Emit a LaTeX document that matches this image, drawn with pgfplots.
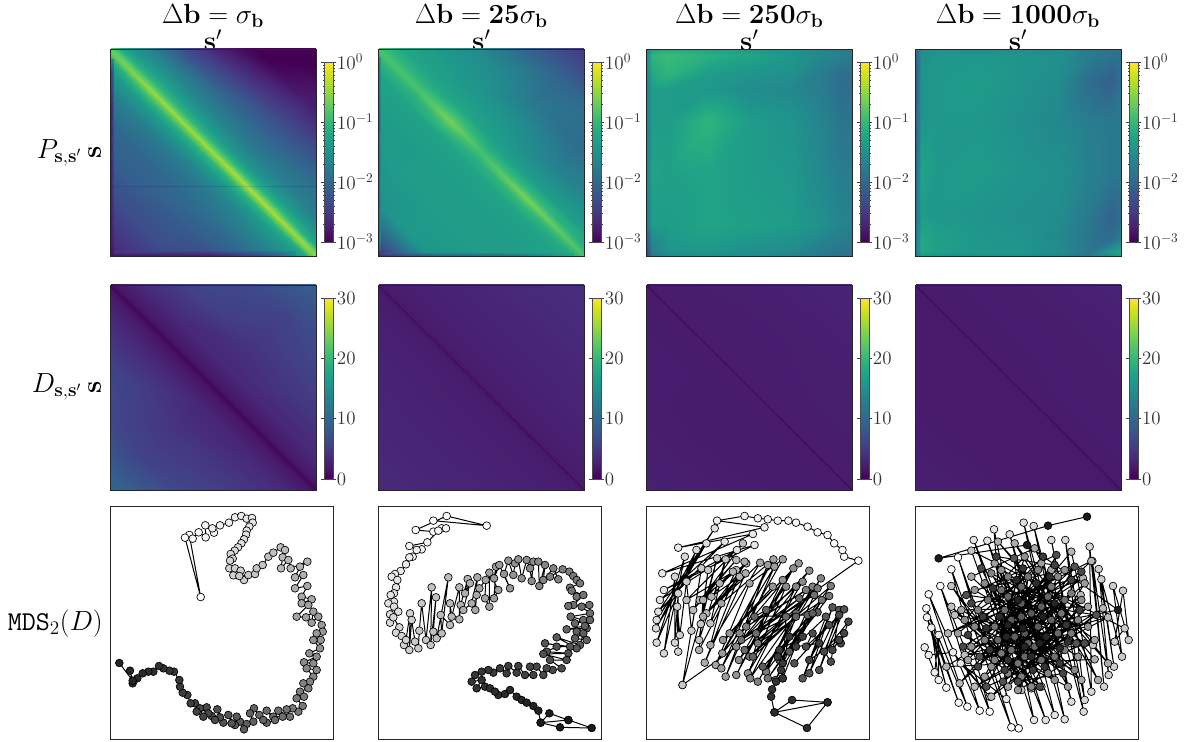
\documentclass[border=0pt]{standalone}
\usepackage{amsmath}
\usepackage{pgfplots}
\usepackage{pgfplotstable}
\pgfplotsset{compat=1.18}
\pgfplotsset{
  colormap={wb}{color(0cm)=(white);color(1cm)=(black!90)},
  base/.style={scale only axis, at={(#1)}, anchor=south west, ticks=none, y dir=reverse, axis on top, axis line style={line width=.6pt, black!85}},
  heat/.style={base={#1}, width=154.5pt, xmin=0,xmax=1,ymin=0,ymax=1, colormap/viridis, point meta=explicit, colorbar,
     colorbar style={scale only axis, width=6.75pt, at={(1.0405,0.937)}, anchor=north west, axis line style={line width=.5pt, black!70},
       tick align=outside, major tick length=2.2pt, minor tick length=.9pt, tick style={black!75, line width=.35pt}, minor tick style={line width=.25pt},
       y tick label style={font=\fontsize{14.2}{14.2}\selectfont, text=black!80, xshift=-3pt}, yticklabel pos=right}},
  Pax/.style={heat={#1,364.5pt}, height=155.25pt, point meta min=-3, point meta max=0,
     colorbar style={height=135pt, ytick={-3,-2,-1,0}, yticklabels={$10^{-3}$,$10^{-2}$,$10^{-1}$,$10^{0}$},
       minor ytick={-2.699,-2.523,-2.398,-2.301,-2.222,-2.155,-2.097,-2.046,-1.699,-1.523,-1.398,-1.301,-1.222,-1.155,-1.097,-1.046,-.699,-.523,-.398,-.301,-.222,-.155,-.097,-.046}}},
  Dax/.style={heat={#1,189pt}, height=153.75pt, point meta min=0, point meta max=30,
     colorbar style={height=135.75pt, ytick={0,10,20,30}, yticklabels={0,10,20,30}}},
  rot/.style={surf, shader=interp, mesh/cols=#1},
  table/rtab/.style={row sep=\\, x expr=\thisrow{u}-\thisrow{d}/2, y expr=\thisrow{u}+\thisrow{d}/2, meta=c},
  table/gtab/.style={row sep=\\, x=x, y=y, meta=c},
  mds/.style 2 args={base={#1,2.25pt}, width=167.25pt, height=174.75pt, colormap name=wb, ymin=18,ymax=717, point meta min=0, point meta max=#2},
  dots/.style={only marks, scatter, mark=*, mark size=2.9pt, scatter/use mapped color={draw=black, fill=mapped color, line width=.5pt}, point meta=\coordindex},
  link/.style={no marks, black, line width=.75pt},
}
\pgfplotstableread[row sep=\\]{x y\\
268 105\\302 291\\255 113\\278 116\\296 97\\317 112\\316 76\\342 98\\337 85\\360 76\\387 68\\405 52\\424 48\\440 56\\456 54\\458 68\\448 80\\440 92\\438 104\\432 118\\424 130\\414 142\\404 152\\392 162\\398 176\\390 182\\388 205\\400 226\\405 205\\422 212\\432 240\\418 228\\445 225\\465 222\\470 205\\488 195\\505 170\\520 158\\542 142\\555 150\\548 172\\543 205\\565 180\\572 205\\622 185\\600 200\\585 232\\610 225\\585 265\\622 258\\605 290\\635 298\\605 310\\625 315\\590 350\\618 352\\640 335\\635 368\\655 350\\665 375\\668 395\\650 400\\662 420\\640 420\\660 445\\628 460\\650 470\\612 487\\640 490\\650 510\\620 505\\640 530\\630 545\\610 550\\625 565\\600 575\\612 590\\590 595\\608 618\\595 635\\578 625\\560 628\\570 650\\535 632\\548 650\\520 650\\500 632\\525 660\\500 668\\478 645\\490 660\\462 625\\450 640\\460 665\\440 672\\432 688\\420 665\\410 650\\405 675\\385 645\\395 670\\370 668\\352 628\\360 652\\335 648\\345 660\\320 622\\325 640\\300 625\\310 650\\290 635\\285 610\\272 610\\262 585\\248 578\\240 560\\238 540\\222 515\\208 512\\190 505\\177 498\\160 515\\145 515\\128 520\\112 535\\98 550\\90 512\\98 542\\58 489\\
}\mdsA
\pgfplotstableread[row sep=\\]{x y\\
190 62\\350 77\\230 48\\137 90\\190 95\\215 85\\228 85\\205 92\\172 127\\118 138\\155 148\\140 150\\128 170\\118 172\\108 193\\92 213\\75 222\\65 230\\82 240\\78 262\\72 280\\62 285\\72 305\\55 310\\72 320\\60 343\\85 335\\60 368\\70 352\\88 382\\78 398\\95 408\\102 435\\108 420\\120 340\\118 450\\125 360\\135 425\\145 445\\148 392\\155 310\\168 420\\185 262\\182 435\\198 292\\190 395\\200 415\\235 232\\215 400\\212 345\\240 375\\240 310\\245 350\\268 262\\268 358\\272 315\\293 237\\285 280\\300 250\\280 330\\305 310\\322 232\\316 330\\320 285\\328 265\\347 240\\345 295\\358 320\\358 218\\385 270\\372 295\\378 200\\372 235\\388 195\\420 265\\402 222\\415 182\\430 225\\435 190\\445 178\\455 235\\470 180\\480 205\\485 243\\490 185\\505 185\\508 258\\525 195\\520 240\\550 205\\565 238\\540 230\\578 208\\598 215\\610 228\\620 240\\630 250\\600 263\\620 290\\605 272\\640 285\\610 315\\595 318\\658 315\\635 320\\660 340\\602 350\\640 360\\615 370\\660 360\\650 385\\590 388\\645 378\\620 395\\650 420\\615 415\\640 400\\630 435\\560 412\\620 445\\525 430\\600 440\\560 440\\530 455\\595 460\\520 462\\590 480\\540 480\\575 505\\548 510\\530 505\\520 525\\500 500\\480 500\\490 525\\465 525\\445 498\\440 518\\415 498\\410 520\\390 505\\370 518\\355 510\\335 515\\315 525\\305 545\\335 540\\320 565\\345 560\\360 565\\385 585\\375 575\\405 582\\420 570\\440 590\\455 600\\470 608\\490 618\\505 632\\512 668\\538 640\\595 660\\512 668\\570 682\\665 684\\595 660\\
}\mdsB
\pgfplotstableread[row sep=\\]{x y\\
128 555\\658 182\\615 170\\610 150\\585 130\\565 105\\535 97\\505 80\\470 68\\447 62\\415 62\\385 58\\355 55\\315 48\\232 62\\375 82\\115 143\\340 102\\67 220\\345 135\\72 270\\292 150\\60 300\\255 125\\55 335\\225 85\\50 360\\200 130\\48 385\\170 150\\50 428\\135 170\\72 460\\105 230\\105 428\\115 280\\115 455\\112 320\\120 405\\140 245\\155 392\\185 205\\128 555\\232 175\\183 372\\205 210\\178 420\\258 178\\212 370\\290 210\\140 300\\310 130\\160 330\\290 180\\180 300\\320 190\\200 340\\300 230\\215 290\\280 215\\240 250\\190 300\\178 450\\315 185\\195 488\\318 220\\190 350\\362 188\\212 435\\245 310\\402 178\\228 495\\330 250\\430 178\\245 505\\385 195\\258 530\\405 200\\248 460\\478 190\\250 420\\400 260\\270 400\\430 240\\290 525\\462 205\\298 480\\510 212\\290 440\\440 260\\325 520\\490 245\\300 400\\470 260\\332 535\\545 235\\355 545\\520 260\\320 380\\500 270\\380 515\\575 258\\330 470\\535 265\\355 430\\570 288\\385 535\\548 300\\408 540\\525 285\\305 420\\480 295\\350 400\\470 340\\315 450\\440 350\\430 535\\505 345\\345 350\\380 330\\340 470\\470 350\\420 480\\535 337\\370 500\\520 340\\450 455\\560 350\\490 535\\580 322\\510 520\\600 330\\540 510\\615 328\\465 490\\570 375\\500 440\\520 400\\575 485\\600 345\\555 455\\628 365\\605 430\\615 400\\580 450\\600 420\\510 480\\540 430\\470 440\\490 410\\420 450\\450 410\\430 490\\415 470\\425 510\\430 535\\410 545\\398 568\\395 590\\405 637\\458 600\\565 607\\405 637\\503 684\\565 607\\
}\mdsC
\pgfplotstableread[row sep=\\]{x y\\
332 685\\150 172\\310 682\\130 208\\245 635\\97 258\\215 632\\62 283\\178 620\\55 325\\152 608\\57 352\\115 563\\70 383\\92 540\\92 405\\80 517\\50 442\\62 465\\135 457\\245 590\\158 490\\295 597\\258 88\\378 660\\197 120\\413 660\\238 122\\440 645\\305 103\\470 658\\347 68\\490 605\\377 78\\527 635\\430 120\\530 600\\472 120\\550 575\\545 140\\588 560\\553 183\\602 525\\572 207\\618 500\\580 238\\642 470\\615 258\\662 420\\645 272\\620 425\\650 385\\190 152\\340 570\\130 258\\370 565\\130 320\\400 560\\140 345\\555 435\\170 465\\600 352\\200 560\\585 325\\250 590\\518 285\\490 155\\155 550\\550 183\\120 400\\525 235\\115 500\\560 478\\270 125\\600 490\\320 130\\570 540\\380 145\\190 230\\520 540\\160 330\\540 320\\300 560\\430 210\\180 480\\560 420\\260 190\\480 560\\150 400\\400 190\\230 530\\530 250\\330 570\\510 470\\200 270\\470 210\\190 440\\540 380\\280 210\\440 540\\170 360\\350 170\\250 500\\520 300\\370 560\\230 250\\500 510\\200 380\\450 230\\300 520\\510 360\\250 220\\420 520\\210 330\\390 210\\260 480\\490 280\\340 530\\230 420\\470 450\\300 230\\490 400\\280 460\\430 260\\240 300\\460 340\\330 490\\360 230\\260 380\\440 470\\280 270\\470 300\\310 450\\400 480\\290 330\\450 400\\350 470\\340 260\\270 420\\420 290\\380 440\\300 290\\430 360\\320 410\\400 320\\340 310\\360 430\\310 360\\390 380\\340 350\\370 340\\350 400\\318 175\\505 430\\215 470\\500 200\\285 545\\565 345\\175 285\\445 165\\235 560\\530 430\\220 205\\395 560\\165 440\\520 215\\330 545\\465 520\\190 310\\490 240\\210 500\\440 195\\265 170\\515 330\\290 510\\180 405\\405 170\\455 490\\225 350\\375 510\\475 375\\245 450\\345 205\\410 500\\255 265\\480 425\\300 480\\425 230\\235 385\\385 250\\455 445\\275 350\\370 470\\325 240\\415 410\\295 410\\440 310\\350 440\\330 300\\395 430\\300 375\\405 350\\345 385\\630 330\\357 135\\92 175\\420 77\\537 50\\
}\mdsD
\begin{document}
\begin{tikzpicture}
\path[use as bounding box] (0,0) rectangle (891pt,556.5pt);
% titles
\newcommand\ttl[3]{\node[font=\fontsize{20}{20}\selectfont,inner sep=0pt] at (#1pt,544.5pt) {$\Delta\mathbf{b}=#2\sigma_{\mathbf{b}}$};
 \node[font=\fontsize{20}{20}\selectfont,inner sep=0pt] at (#1pt,526.5pt) {$\mathbf{s}'$};}
\ttl{159.75}{}{}
\ttl{361}{\mathbf{25}}{}
\ttl{562}{\mathbf{250}}{}
\ttl{763.5}{\mathbf{1000}}{}
\node[font=\fontsize{20.4}{20}\selectfont,inner sep=0pt] at (44.5pt,442pt) {$P_{\mathbf{s},\mathbf{s}'}$};
\node[font=\fontsize{20}{20}\selectfont,inner sep=0pt,rotate=90] at (71pt,442pt) {$\mathbf{s}$};
\node[font=\fontsize{20.4}{20}\selectfont,inner sep=0pt] at (42.5pt,266pt) {$D_{\mathbf{s},\mathbf{s}'}$};
\node[font=\fontsize{20}{20}\selectfont,inner sep=0pt,rotate=90] at (71pt,266pt) {$\mathbf{s}$};
\node[font=\fontsize{20.4}{20}\selectfont,inner sep=0pt] at (41.5pt,89pt) {$\texttt{MDS}_2(D)$};
% P1
\begin{axis}[Pax={82.5pt}]
\addplot[rot=6] table[rtab]{u d c\\
0 -1 -3\\.2 -1 -3\\.4 -1 -3\\.6 -1 -3\\.8 -1 -3\\1 -1 -3\\
0 -.7 -3\\.2 -.7 -3\\.4 -.7 -3\\.6 -.7 -2.75\\.8 -.7 -2.7\\1 -.7 -2.7\\
0 -.5 -2.7\\.2 -.5 -2.7\\.4 -.5 -2.5\\.6 -.5 -2.35\\.8 -.5 -2.25\\1 -.5 -2.25\\
0 -.35 -2.25\\.2 -.35 -2.25\\.4 -.35 -2.05\\.6 -.35 -2.05\\.8 -.35 -1.95\\1 -.35 -1.95\\
0 -.2 -1.7\\.2 -.2 -1.65\\.4 -.2 -1.7\\.6 -.2 -1.75\\.8 -.2 -1.7\\1 -.2 -1.8\\
0 -.1 -1.4\\.2 -.1 -1.3\\.4 -.1 -1.35\\.6 -.1 -1.4\\.8 -.1 -1.35\\1 -.1 -1.4\\
0 -.05 -1.15\\.2 -.05 -1\\.4 -.05 -1.05\\.6 -.05 -1.05\\.8 -.05 -1.05\\1 -.05 -1.2\\
0 -.018 -.8\\.2 -.018 -.65\\.4 -.018 -.65\\.6 -.018 -.6\\.8 -.018 -.6\\1 -.018 -.7\\
0 0 -.7\\.2 0 -.45\\.4 0 -.42\\.6 0 -.38\\.8 0 -.38\\1 0 -.5\\
0 .018 -.8\\.2 .018 -.65\\.4 .018 -.65\\.6 .018 -.6\\.8 .018 -.6\\1 .018 -.7\\
0 .05 -1.15\\.2 .05 -1\\.4 .05 -1.05\\.6 .05 -1.05\\.8 .05 -1.05\\1 .05 -1.2\\
0 .1 -1.4\\.2 .1 -1.35\\.4 .1 -1.35\\.6 .1 -1.4\\.8 .1 -1.35\\1 .1 -1.4\\
0 .2 -1.7\\.2 .2 -1.7\\.4 .2 -1.75\\.6 .2 -1.75\\.8 .2 -1.65\\1 .2 -1.7\\
0 .35 -2\\.2 .35 -2\\.4 .35 -2\\.6 .35 -1.95\\.8 .35 -2\\1 .35 -2\\
0 .5 -2.1\\.2 .5 -2.1\\.4 .5 -2.1\\.6 .5 -2.15\\.8 .5 -2.3\\1 .5 -2.6\\
0 .7 -2.3\\.2 .7 -2.3\\.4 .7 -2.3\\.6 .7 -2.3\\.8 .7 -2.6\\1 .7 -2.7\\
0 1 -2.7\\.2 1 -2.7\\.4 1 -2.7\\.6 1 -2.7\\.8 1 -2.7\\1 1 -2.7\\
};
\addplot[surf, shader=interp, mesh/cols=2] table[gtab]{x y c\\
0 .05 -1.6\\.018 .05 -1.5\\0 .12 -2.6\\.018 .12 -1.9\\0 .3 -2.9\\.018 .3 -2.15\\0 .6 -2.9\\.018 .6 -2.3\\0 .8 -2.9\\.018 .8 -2.45\\0 1 -2.95\\.018 1 -2.8\\
};
\addplot[surf, shader=interp, mesh/cols=5] table[gtab]{x y c\\
.018 .975 -2.5\\.25 .975 -2.4\\.5 .975 -2.35\\.75 .975 -1.9\\.9 .975 -1.5\\
.018 1 -2.9\\.25 1 -2.9\\.5 1 -2.85\\.75 1 -2.4\\.9 1 -1.6\\
};
\addplot[no marks, color=black!60!blue, opacity=.13, line width=.6pt] coordinates {(0.018,.665)(1,.665)};
\addplot[no marks, color=teal, opacity=.12, line width=.6pt] coordinates {(.66,.05)(.66,.6)};
\end{axis}
% P2
\begin{axis}[Pax={283.5pt}]
\addplot[rot=6] table[rtab]{u d c\\
0 -1 -2.5\\.2 -1 -2.5\\.35 -1 -2.5\\.5 -1 -2.5\\.72 -1 -2.5\\1 -1 -2.5\\
0 -.75 -2.1\\.2 -.75 -2.1\\.35 -.75 -2.1\\.5 -.75 -2.05\\.72 -.75 -1.95\\1 -.75 -1.95\\
0 -.5 -1.6\\.2 -.5 -1.6\\.35 -.5 -1.6\\.5 -.5 -1.8\\.72 -.5 -1.95\\1 -.5 -1.8\\
0 -.3 -1.4\\.2 -.3 -1.4\\.35 -.3 -1.45\\.5 -.3 -1.5\\.72 -.3 -1.7\\1 -.3 -1.6\\
0 -.12 -1.2\\.2 -.12 -1.25\\.35 -.12 -1.25\\.5 -.12 -1.3\\.72 -.12 -1.35\\1 -.12 -1.3\\
0 -.05 -1.0\\.2 -.05 -1.05\\.35 -.05 -.9\\.5 -.05 -1.1\\.72 -.05 -1.0\\1 -.05 -1.15\\
0 0 -.85\\.2 0 -.85\\.35 0 -.62\\.5 0 -.88\\.72 0 -.6\\1 0 -.85\\
0 .05 -1.05\\.2 .05 -1.1\\.35 .05 -.95\\.5 .05 -1.1\\.72 .05 -1.0\\1 .05 -1.15\\
0 .12 -1.25\\.2 .12 -1.25\\.35 .12 -1.25\\.5 .12 -1.25\\.72 .12 -1.25\\1 .12 -1.25\\
0 .3 -1.35\\.2 .3 -1.35\\.35 .3 -1.35\\.5 .3 -1.35\\.72 .3 -1.35\\1 .3 -1.35\\
0 .5 -1.4\\.2 .5 -1.4\\.35 .5 -1.35\\.5 .5 -1.35\\.72 .5 -1.35\\1 .5 -1.6\\
0 .75 -1.7\\.2 .75 -1.7\\.35 .75 -1.5\\.5 .75 -1.4\\.72 .75 -1.5\\1 .75 -1.7\\
0 1 -2.6\\.2 1 -2.6\\.35 1 -2.6\\.5 1 -2.6\\.72 1 -2.6\\1 1 -2.6\\
};
\addplot[surf, shader=interp, mesh/cols=2] table[gtab]{x y c\\
0 .04 -1.7\\.012 .04 -1.3\\0 .1 -2.3\\.012 .1 -1.4\\0 .3 -2.4\\.012 .3 -1.6\\0 .7 -2.3\\.012 .7 -1.6\\0 .93 -2.4\\.012 .93 -1.7\\0 1 -3\\.012 1 -2.6\\
};
\addplot[surf, shader=interp, mesh/cols=4] table[gtab]{x y c\\
.012 .985 -2.3\\.3 .985 -1.7\\.6 .985 -1.65\\.95 .985 -1.2\\
.012 1 -2.7\\.3 1 -2.2\\.6 1 -2.1\\.95 1 -1.2\\
};
\end{axis}
% P3
\begin{axis}[Pax={484.5pt}]
\addplot[surf, shader=interp, mesh/cols=9] table[gtab]{x y c\\
0 0 -1.7\\.03 0 -1.3\\.1 0 -1.2\\.3 0 -1.3\\.5 0 -1.4\\.7 0 -1.5\\.85 0 -1.65\\.95 0 -1.75\\1 0 -1.75\\
0 .03 -1.7\\.03 .03 -1.05\\.1 .03 -.95\\.3 .03 -1.1\\.5 .03 -1.25\\.7 .03 -1.4\\.85 .03 -1.6\\.95 .03 -1.7\\1 .03 -1.75\\
0 .12 -1.7\\.03 .12 -1.2\\.1 .12 -1.05\\.3 .12 -1.35\\.5 .12 -1.45\\.7 .12 -1.5\\.85 .12 -1.75\\.95 .12 -1.95\\1 .12 -1.9\\
0 .2 -1.8\\.03 .2 -1.35\\.1 .2 -1.35\\.3 .2 -1.4\\.5 .2 -1.55\\.7 .2 -1.6\\.85 .2 -1.75\\.95 .2 -1.95\\1 .2 -1.9\\
0 .35 -1.8\\.03 .35 -1.35\\.1 .35 -1.35\\.3 .35 -1.05\\.5 .35 -1.35\\.7 .35 -1.45\\.85 .35 -1.65\\.95 .35 -1.85\\1 .35 -1.85\\
0 .6 -1.8\\.03 .6 -1.25\\.1 .6 -1.3\\.3 .6 -1.25\\.5 .6 -1.35\\.7 .6 -1.4\\.85 .6 -1.6\\.95 .6 -1.75\\1 .6 -1.75\\
0 .85 -1.9\\.03 .85 -1.35\\.1 .85 -1.35\\.3 .85 -1.25\\.5 .85 -1.3\\.7 .85 -1.35\\.85 .85 -1.5\\.95 .85 -1.65\\1 .85 -1.7\\
0 .97 -2.4\\.03 .97 -1.7\\.1 .97 -1.45\\.3 .97 -1.4\\.5 .97 -1.5\\.7 .97 -1.55\\.85 .97 -1.75\\.95 .97 -1.85\\1 .97 -1.85\\
0 1 -2.6\\.03 1 -1.85\\.1 1 -1.6\\.3 1 -1.55\\.5 1 -1.6\\.7 1 -1.7\\.85 1 -1.8\\.95 1 -1.9\\1 1 -1.85\\
};
\end{axis}
% P4
\begin{axis}[Pax={686.25pt}]
\addplot[surf, shader=interp, mesh/cols=9] table[gtab]{x y c\\
0 0 -2.1\\.03 0 -1.55\\.1 0 -1.5\\.3 0 -1.55\\.5 0 -1.55\\.7 0 -1.6\\.85 0 -1.8\\.95 0 -1.9\\1 0 -1.9\\
0 .03 -2.2\\.03 .03 -1.5\\.1 .03 -1.4\\.3 .03 -1.4\\.5 .03 -1.45\\.7 .03 -1.5\\.85 .03 -1.75\\.95 .03 -1.85\\1 .03 -1.85\\
0 .15 -2.3\\.03 .15 -1.45\\.1 .15 -1.4\\.3 .15 -1.35\\.5 .15 -1.45\\.7 .15 -1.55\\.85 .15 -1.95\\.95 .15 -2.1\\1 .15 -1.9\\
0 .35 -2.2\\.03 .35 -1.45\\.1 .35 -1.4\\.3 .35 -1.4\\.5 .35 -1.5\\.7 .35 -1.6\\.85 .35 -1.75\\.95 .35 -1.8\\1 .35 -1.8\\
0 .6 -2.1\\.03 .6 -1.25\\.1 .6 -1.4\\.3 .6 -1.35\\.5 .6 -1.45\\.7 .6 -1.5\\.85 .6 -1.7\\.95 .6 -1.8\\1 .6 -1.8\\
0 .8 -2.0\\.03 .8 -1.35\\.1 .8 -1.4\\.3 .8 -1.45\\.5 .8 -1.5\\.7 .8 -1.55\\.85 .8 -1.8\\.95 .8 -2.05\\1 .8 -1.95\\
0 .92 -1.9\\.03 .92 -1.2\\.1 .92 -1.3\\.3 .92 -1.4\\.5 .92 -1.45\\.7 .92 -1.6\\.85 .92 -1.85\\.95 .92 -1.95\\1 .92 -1.7\\
0 .98 -1.9\\.03 .98 -1.2\\.1 .98 -1.3\\.3 .98 -1.4\\.5 .98 -1.4\\.7 .98 -1.55\\.85 .98 -1.8\\.95 .98 -1.35\\1 .98 -1.15\\
0 1 -2.0\\.03 1 -1.45\\.1 1 -1.55\\.3 1 -1.55\\.5 1 -1.55\\.7 1 -1.7\\.85 1 -1.85\\.95 1 -1.65\\1 1 -1.3\\
};
\end{axis}
% D1
\begin{axis}[Dax={82.5pt}]
\addplot[rot=5] table[rtab]{u d c\\
0 -1 9\\.25 -1 9\\.5 -1 9\\.75 -1 9\\1 -1 9\\
0 -.7 7\\.25 -.7 7\\.5 -.7 6\\.75 -.7 7\\1 -.7 7\\
0 -.4 6\\.25 -.4 6\\.5 -.4 4.5\\.75 -.4 5\\1 -.4 5\\
0 -.15 3.5\\.25 -.15 3.2\\.5 -.15 3.2\\.75 -.15 3.2\\1 -.15 3.5\\
0 -.03 1.8\\.25 -.03 1.7\\.5 -.03 1.7\\.75 -.03 1.7\\1 -.03 1.8\\
0 0 .5\\.25 0 .5\\.5 0 .5\\.75 0 .5\\1 0 .5\\
0 .03 1.8\\.25 .03 1.7\\.5 .03 1.7\\.75 .03 1.7\\1 .03 1.8\\
0 .15 3.5\\.25 .15 3.2\\.5 .15 3.2\\.75 .15 3.2\\1 .15 3.5\\
0 .4 6\\.25 .4 6\\.5 .4 4.5\\.75 .4 5\\1 .4 5\\
0 .7 7\\.25 .7 7\\.5 .7 6\\.75 .7 7\\1 .7 7\\
0 1 10\\.25 1 10\\.5 1 10\\.75 1 10\\1 1 10\\
};
\end{axis}
% D2
\begin{axis}[Dax={283.5pt}]
\addplot[rot=3] table[rtab]{u d c\\
0 -1 4\\.5 -1 4\\1 -1 4\\
0 -.5 3.2\\.5 -.5 3.1\\1 -.5 3.2\\
0 -.1 2.5\\.5 -.1 2.5\\1 -.1 2.5\\
0 -.012 2.0\\.5 -.012 2\\1 -.012 2\\
0 0 .7\\.5 0 .7\\1 0 .7\\
0 .012 2.0\\.5 .012 2\\1 .012 2\\
0 .1 2.5\\.5 .1 2.5\\1 .1 2.5\\
0 .5 3.0\\.5 .5 2.9\\1 .5 3\\
0 1 3.5\\.5 1 3.5\\1 1 3.5\\
};
\end{axis}
% D3
\begin{axis}[Dax={484.5pt}]
\addplot[rot=3] table[rtab]{u d c\\
0 -1 3\\.5 -1 3\\1 -1 3\\
0 -.5 2.6\\.5 -.5 2.4\\1 -.5 2.5\\
0 -.1 2.3\\.5 -.1 2.3\\1 -.1 2.3\\
0 -.008 2.1\\.5 -.008 2.1\\1 -.008 2.1\\
0 0 .6\\.5 0 .6\\1 0 .6\\
0 .008 2.1\\.5 .008 2.1\\1 .008 2.1\\
0 .1 2.2\\.5 .1 2.2\\1 .1 2.2\\
0 .5 2.3\\.5 .5 2.2\\1 .5 2.3\\
0 1 2.7\\.5 1 2.7\\1 1 2.7\\
};
\end{axis}
% D4
\begin{axis}[Dax={686.25pt}]
\addplot[rot=3] table[rtab]{u d c\\
0 -1 2.9\\.5 -1 2.9\\1 -1 2.9\\
0 -.5 2.4\\.5 -.5 2.3\\1 -.5 2.4\\
0 -.1 2.2\\.5 -.1 2.2\\1 -.1 2.2\\
0 -.008 2.0\\.5 -.008 2\\1 -.008 2\\
0 0 .6\\.5 0 .6\\1 0 .6\\
0 .008 2.0\\.5 .008 2\\1 .008 2\\
0 .1 2.1\\.5 .1 2.1\\1 .1 2.1\\
0 .5 2.2\\.5 .5 2.1\\1 .5 2.2\\
0 1 2.6\\.5 1 2.6\\1 1 2.6\\
};
\end{axis}
% MDS
\begin{axis}[mds={82.5pt}{135}, xmin=30,xmax=699]
\addplot[dots] table[x=x,y=y]{\mdsA};
\addplot[link] table[x=x,y=y]{\mdsA};
\end{axis}
\begin{axis}[mds={283.5pt}{165}, xmin=24,xmax=693]
\addplot[dots] table[x=x,y=y]{\mdsB};
\addplot[link] table[x=x,y=y]{\mdsB};
\end{axis}
\begin{axis}[mds={484.5pt}{178}, xmin=18,xmax=690]
\addplot[dots] table[x=x,y=y]{\mdsC};
\addplot[link] table[x=x,y=y]{\mdsC};
\end{axis}
\begin{axis}[mds={686.25pt}{208}, xmin=21,xmax=690]
\addplot[dots] table[x=x,y=y]{\mdsD};
\addplot[link] table[x=x,y=y]{\mdsD};
\end{axis}
\end{tikzpicture}
\end{document}
